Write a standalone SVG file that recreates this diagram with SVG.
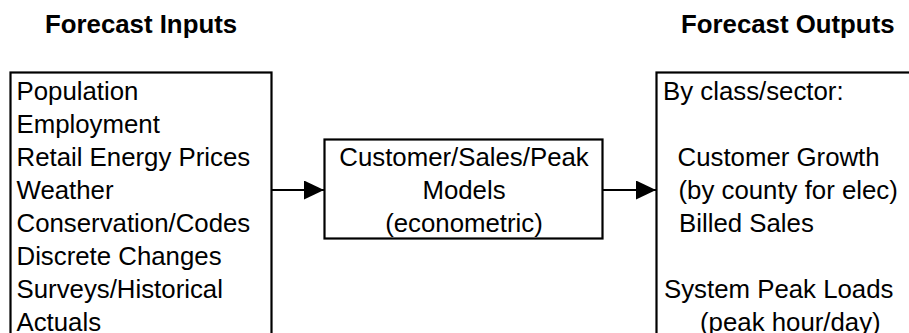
<svg xmlns="http://www.w3.org/2000/svg" width="909" height="333" viewBox="0 0 909 333">
<style>
  .title { font-family: "Liberation Sans", Arial, sans-serif; font-size: 25.8px; font-weight: bold; fill: #000; }
  .txt { font-family: "Liberation Sans", Arial, sans-serif; font-size: 25.8px; fill: #000; }
  .box { fill: #fff; stroke: #000; stroke-width: 2.2; }
  .conn { stroke: #000; stroke-width: 2.2; fill: none; }
</style>
<defs>
  <marker id="arrow" markerUnits="userSpaceOnUse" markerWidth="21" markerHeight="20" refX="20" refY="9.5" orient="auto">
    <path d="M0,0 L20,9.5 L0,19 z" fill="#000"/>
  </marker>
</defs>
<rect width="909" height="333" fill="#fff"/>
<text class="title" x="45" y="33">Forecast Inputs</text>
<text class="title" x="681" y="33">Forecast Outputs</text>

<g id="inputs">
  <rect class="box" x="10.5" y="72.5" width="261" height="280"/>
  <text class="txt" x="16.5" y="99.5">Population</text>
  <text class="txt" x="16.5" y="132.5">Employment</text>
  <text class="txt" x="16.5" y="165.5">Retail Energy Prices</text>
  <text class="txt" x="16.5" y="198.5">Weather</text>
  <text class="txt" x="16.5" y="231.5">Conservation/Codes</text>
  <text class="txt" x="16.5" y="264.5">Discrete Changes</text>
  <text class="txt" x="16.5" y="297.5">Surveys/Historical</text>
  <text class="txt" x="16.5" y="330.5">Actuals</text>
</g>

<g id="models">
  <rect class="box" x="324.5" y="139.5" width="278" height="99"/>
  <text class="txt" x="464" y="165.5" text-anchor="middle">Customer/Sales/Peak</text>
  <text class="txt" x="464" y="198.5" text-anchor="middle">Models</text>
  <text class="txt" x="464" y="231.5" text-anchor="middle">(econometric)</text>
</g>

<g id="outputs">
  <rect class="box" x="656.5" y="72.5" width="280" height="280"/>
  <text class="txt" x="663" y="99.5">By class/sector:</text>
  <text class="txt" x="677.5" y="165.5">Customer Growth</text>
  <text class="txt" x="678.5" y="198.5">(by county for elec)</text>
  <text class="txt" x="679" y="231.5">Billed Sales</text>
  <text class="txt" x="664" y="297.5">System Peak Loads</text>
  <text class="txt" x="700" y="330.5">(peak hour/day)</text>
</g>

<g id="connectors">
  <line class="conn" x1="272" y1="190" x2="324" y2="190" marker-end="url(#arrow)"/>
  <line class="conn" x1="603" y1="190" x2="656" y2="190" marker-end="url(#arrow)"/>
</g>
</svg>
